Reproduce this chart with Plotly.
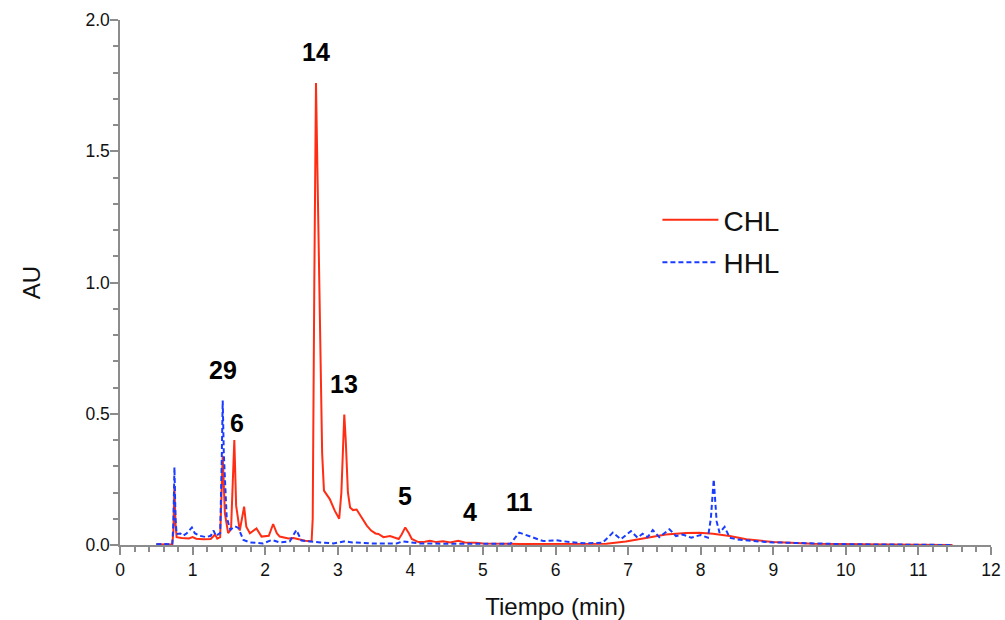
import numpy as np
import plotly.graph_objects as go

# Retention time (min) and absorbance (AU) for each extract
chl_t = [0.50, 0.60, 0.72, 0.735, 0.75, 0.765, 0.78, 0.85, 0.95, 1.00, 1.05, 1.15,
         1.25, 1.31, 1.34, 1.38, 1.415, 1.445, 1.49, 1.53, 1.575, 1.60, 1.65, 1.71,
         1.74, 1.79, 1.88, 1.95, 2.05, 2.11, 2.16, 2.20, 2.25, 2.32, 2.39, 2.46,
         2.55, 2.62, 2.64, 2.655, 2.67, 2.677, 2.70, 2.72, 2.746, 2.76, 2.785, 2.81,
         2.89, 2.96, 3.02, 3.05, 3.07, 3.09, 3.11, 3.14, 3.17, 3.21, 3.26, 3.33,
         3.40, 3.46, 3.52, 3.56, 3.63, 3.72, 3.79, 3.84, 3.88, 3.93, 3.98, 4.02,
         4.11, 4.20, 4.27, 4.36, 4.45, 4.55, 4.66, 4.75, 4.90, 5.00, 5.50, 6.00,
         6.50, 6.70, 6.97, 7.25, 7.52, 7.80, 7.98, 8.17, 8.40, 8.63, 9.00, 9.55,
         10.00, 11.00, 11.47]
chl_au = [0.003, 0.003, 0.002, 0.050, 0.226, 0.080, 0.030, 0.027, 0.025, 0.030, 0.024, 0.022,
          0.023, 0.040, 0.024, 0.030, 0.340, 0.120, 0.045, 0.060, 0.400, 0.150, 0.055, 0.146,
          0.070, 0.045, 0.063, 0.032, 0.035, 0.080, 0.045, 0.032, 0.030, 0.025, 0.027, 0.022,
          0.016, 0.014, 0.015, 0.100, 0.550, 1.000, 1.760, 1.400, 1.000, 0.650, 0.350, 0.207,
          0.175, 0.130, 0.100, 0.200, 0.400, 0.497, 0.400, 0.200, 0.143, 0.133, 0.135, 0.105,
          0.074, 0.055, 0.044, 0.042, 0.030, 0.034, 0.028, 0.023, 0.040, 0.067, 0.045, 0.023,
          0.011, 0.012, 0.016, 0.011, 0.014, 0.010, 0.016, 0.010, 0.009, 0.006, 0.004, 0.004,
          0.004, 0.005, 0.013, 0.028, 0.040, 0.046, 0.047, 0.043, 0.034, 0.022, 0.011, 0.005,
          0.003, 0.001, 0.000]

hhl_t = [0.50, 0.60, 0.72, 0.735, 0.75, 0.765, 0.78, 0.83, 0.87, 0.92, 0.99, 1.03,
         1.10, 1.19, 1.25, 1.29, 1.32, 1.38, 1.40, 1.415, 1.43, 1.47, 1.52, 1.585,
         1.63, 1.70, 1.79, 1.97, 2.09, 2.20, 2.34, 2.43, 2.50, 2.62, 2.76, 2.94,
         3.10, 3.20, 3.45, 3.81, 3.90, 4.00, 4.13, 4.50, 5.00, 5.38, 5.50, 5.64,
         5.83, 6.01, 6.20, 6.43, 6.65, 6.79, 6.90, 7.04, 7.13, 7.20, 7.27, 7.34,
         7.43, 7.57, 7.66, 7.75, 7.87, 8.00, 8.10, 8.14, 8.18, 8.22, 8.26, 8.33,
         8.40, 8.49, 8.72, 9.00, 9.55, 10.00, 11.00, 11.47]
hhl_au = [0.003, 0.004, 0.002, 0.080, 0.296, 0.100, 0.042, 0.044, 0.035, 0.045, 0.067, 0.045,
          0.035, 0.030, 0.035, 0.055, 0.035, 0.045, 0.300, 0.550, 0.350, 0.105, 0.058, 0.071,
          0.065, 0.019, 0.010, 0.006, 0.019, 0.010, 0.014, 0.057, 0.017, 0.013, 0.010, 0.006,
          0.014, 0.010, 0.006, 0.006, 0.014, 0.010, 0.006, 0.005, 0.005, 0.005, 0.047, 0.034,
          0.015, 0.018, 0.011, 0.006, 0.009, 0.047, 0.022, 0.053, 0.028, 0.043, 0.030, 0.057,
          0.030, 0.060, 0.034, 0.040, 0.028, 0.038, 0.028, 0.100, 0.250, 0.090, 0.047, 0.069,
          0.028, 0.022, 0.015, 0.010, 0.005, 0.003, 0.001, 0.000]

# Compound numbers marked on the chromatogram and their retention times
peak_names = ["14", "29", "6", "13", "5", "4", "11"]
peak_t = [2.70, 1.415, 1.575, 3.09, 3.93, 4.82, 5.50]

x_ticks = list(range(0, 13))
y_ticks = [0.0, 0.5, 1.0, 1.5, 2.0]

RED = "#ff2d14"
BLUE = "#1a3cff"
AXIS = "#8c8c8c"
FONT = "Liberation Sans, Arial, sans-serif"

fig = go.Figure()
fig.add_trace(go.Scatter(x=chl_t, y=chl_au, mode="lines", name="CHL", legendgroup="chl",
                         line=dict(color=RED, width=2)))
fig.add_trace(go.Scatter(x=hhl_t, y=hhl_au, mode="lines", name="HHL", legendgroup="hhl",
                         line=dict(color=BLUE, width=2, dash="5px,3px")))

# Peak numbers sit just above the taller of the two traces at each retention time
label_lift = {"6": 17}
for name, t in zip(peak_names, peak_t):
    apex = max(np.interp(t, chl_t, chl_au), np.interp(t, hhl_t, hhl_au))
    fig.add_annotation(x=t, y=apex, text=f"<b>{name}</b>", showarrow=False,
                       yshift=label_lift.get(name, 31), xshift=3 if name == "6" else 0,
                       font=dict(family=FONT, size=25, color="black"))

axis_common = dict(showline=True, linecolor=AXIS, linewidth=1.5, ticks="outside",
                   tickcolor=AXIS, tickwidth=1.5, ticklen=8, showgrid=False,
                   zeroline=False, automargin=False,
                   tickfont=dict(family=FONT, size=17.5, color="#111"))

fig.update_xaxes(range=[0, 12], tickvals=x_ticks,
                 minor=dict(ticks="outside", dtick=0.2, ticklen=5, tickcolor=AXIS,
                            tickwidth=1.5, showgrid=False),
                 title=dict(text="Tiempo (min)", font=dict(family=FONT, size=24, color="#111"),
                            standoff=20),
                 **axis_common)
fig.update_yaxes(range=[0, 2.0], tickvals=y_ticks, tickformat=".1f",
                 minor=dict(ticks="outside", dtick=0.1, ticklen=5, tickcolor=AXIS,
                            tickwidth=1.5, showgrid=False),
                 ticklabelstandoff=-3,
                 title=dict(text="AU", font=dict(family=FONT, size=24, color="#111"),
                            standoff=38),
                 **axis_common)

fig.update_layout(
    width=1005, height=620,
    margin=dict(l=120, r=14, t=20, b=75),
    plot_bgcolor="white", paper_bgcolor="white",
    font=dict(family=FONT),
    legend=dict(x=0.617, y=0.579, xanchor="left", yanchor="middle",
                traceorder="grouped", tracegroupgap=3,
                bgcolor="rgba(0,0,0,0)", font=dict(family=FONT, size=28, color="#111"),
                itemwidth=56),
)

fig.write_html("out.html")
